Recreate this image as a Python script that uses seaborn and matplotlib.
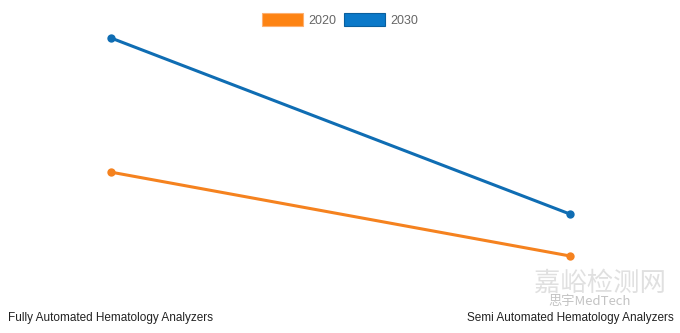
import matplotlib
matplotlib.use("Agg")
import matplotlib.pyplot as plt
from matplotlib.patches import Patch
import seaborn as sns
import pandas as pd

categories = ["Fully Automated Hematology Analyzers", "Semi Automated Hematology Analyzers"]
values_2020 = [2.44, 0.84]
values_2030 = [5.0, 1.64]
years = ["2020", "2030"]

rows = []
for yr, vals in zip(years, [values_2020, values_2030]):
    for c, v in zip(categories, vals):
        rows.append({"category": c, "value": v, "year": yr})
df = pd.DataFrame(rows)

sns.set_theme(style="white")
plt.rcParams["font.family"] = ["Liberation Sans", "DejaVu Sans"]

line_colors = {"2020": "#f5821f", "2030": "#0f6db3"}
fill_colors = {"2020": "#fd8313", "2030": "#0b79c9"}
edge_colors = {"2020": "#fdb070", "2030": "#0a5f9e"}

fig = plt.figure(figsize=(6.8, 3.33), dpi=100)
fig.patch.set_facecolor("white")
ax = fig.add_axes([111/680, 33/333, (570-111)/680, (300-38)/333])

sns.lineplot(data=df, x="category", y="value", hue="year", palette=line_colors,
             marker="o", markersize=6, markeredgewidth=0, linewidth=2.2,
             sort=False, legend=False, ax=ax, clip_on=False)

ax.set_xlim(0, 1)
ax.set_ylim(0, 5.0)
ax.set_xlabel("")
ax.set_ylabel("")
ax.set_yticks([])
ax.set_xticks([0, 1])
ax.set_xticklabels(categories, fontsize=8.5, color="#222222")
ax.tick_params(axis="x", length=0, pad=9)
for s in ax.spines.values():
    s.set_visible(False)
ax.set_facecolor("none")

handles = [Patch(facecolor=fill_colors[y], edgecolor=edge_colors[y], linewidth=0.8, label=y) for y in years]
leg = fig.legend(handles=handles, loc="center", bbox_to_anchor=(340/680, 1 - 20/333),
                 ncol=2, frameon=False, fontsize=9, handlelength=3.3, handleheight=1.15,
                 handletextpad=0.4, columnspacing=0.6, borderaxespad=0)
for t in leg.get_texts():
    t.set_color("#666666")

# watermark
fig.text(600/680, 1 - 283/333, "嘉峪检测网", fontsize=19, color="#cccccc", alpha=0.6,
         ha="center", va="center", family=["Noto Sans CJK SC", "DejaVu Sans"], zorder=0)
fig.text(590/680, 1 - 302/333, "思宇MedTech", fontsize=9.5, color="#aaaaaa", alpha=0.7,
         ha="center", va="center", family=["Noto Sans CJK SC", "DejaVu Sans"], zorder=0)

fig.savefig("out.png", dpi=100, facecolor="white")
